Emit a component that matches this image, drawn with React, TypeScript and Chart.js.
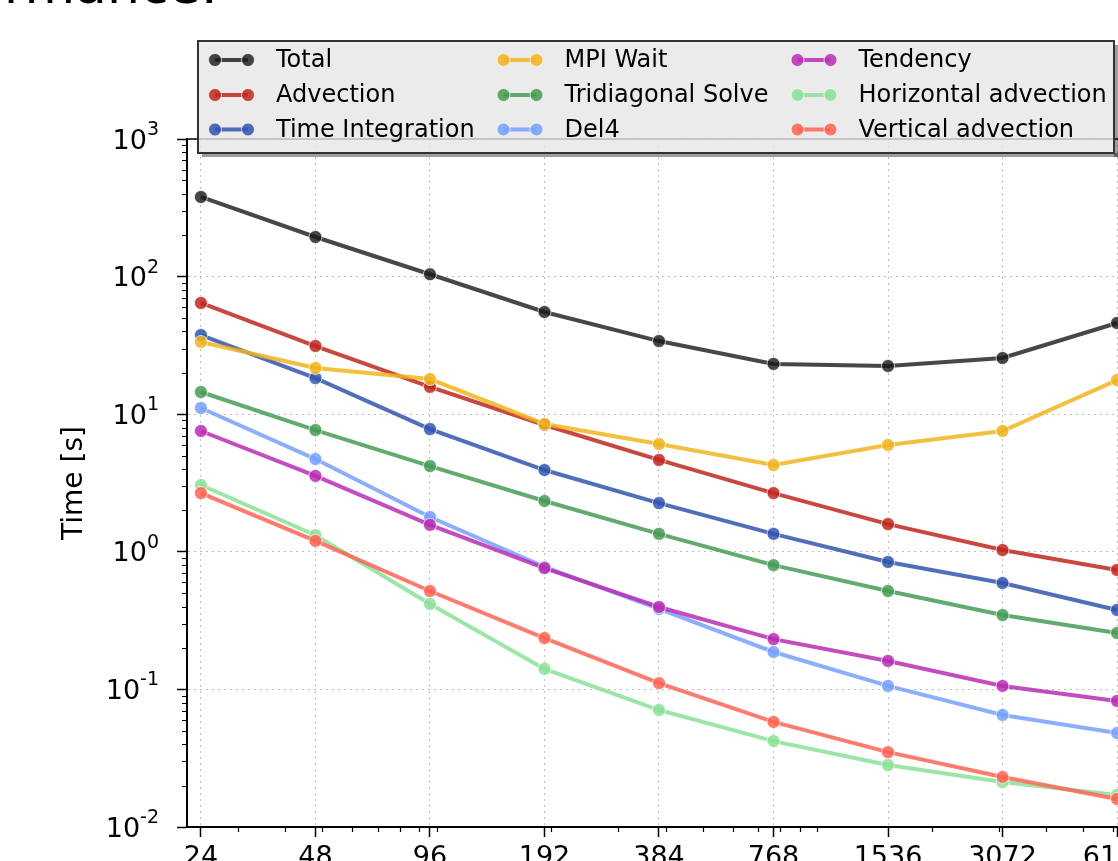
import React, { useEffect, useRef } from 'react';
import { Chart, registerables } from 'chart.js';

Chart.register(...registerables);

const cores = [24, 48, 96, 192, 384, 768, 1536, 3072, 6144];
const xTickLabels = ['24', '48', '96', '192', '384', '768', '1536', '3072', '6144'];
const yTickValues = [0.01, 0.1, 1, 10, 100, 1000];
const yTickBase = '10';
const yTickExponents = ['-2', '-1', '0', '1', '2', '3'];

const seriesNames = [
  'Total',
  'Advection',
  'Time Integration',
  'MPI Wait',
  'Tridiagonal Solve',
  'Del4',
  'Tendency',
  'Horizontal advection',
  'Vertical advection',
];
const seriesColors = [
  'rgba(25,25,25,0.8)',
  'rgba(190,40,30,0.85)',
  'rgba(50,85,175,0.85)',
  'rgba(240,180,30,0.85)',
  'rgba(70,155,85,0.85)',
  'rgba(120,160,255,0.85)',
  'rgba(185,45,180,0.85)',
  'rgba(140,225,150,0.85)',
  'rgba(255,100,85,0.85)',
];

const total = [379, 194, 104, 55.3, 34.0, 23.2, 22.4, 25.6, 46.0];
const advection = [64.3, 31.3, 15.8, 8.35, 4.65, 2.67, 1.59, 1.03, 0.738];
const timeIntegration = [37.6, 18.3, 7.8, 3.93, 2.26, 1.35, 0.843, 0.593, 0.378];
const mpiWait = [33.5, 21.7, 18.0, 8.49, 6.07, 4.27, 5.97, 7.55, 17.7];
const tridiagonalSolve = [14.5, 7.67, 4.2, 2.34, 1.35, 0.8, 0.519, 0.347, 0.257];
const del4 = [11.1, 4.72, 1.79, 0.776, 0.384, 0.187, 0.106, 0.0652, 0.0482];
const tendency = [7.55, 3.56, 1.57, 0.762, 0.397, 0.232, 0.161, 0.106, 0.0824];
const horizontalAdvection = [3.06, 1.32, 0.418, 0.141, 0.0708, 0.0421, 0.0282, 0.0212, 0.0171];
const verticalAdvection = [2.67, 1.2, 0.519, 0.236, 0.111, 0.058, 0.035, 0.0231, 0.016];

const seriesValues = [
  total,
  advection,
  timeIntegration,
  mpiWait,
  tridiagonalSolve,
  del4,
  tendency,
  horizontalAdvection,
  verticalAdvection,
];

const titleText = 'Performance:';

const FONT = '"DejaVu Sans", "Liberation Sans", sans-serif';

const decorPlugin = {
  id: 'decor',
  afterDraw(chart: any) {
    const { ctx, chartArea: ca, scales } = chart;
    const xs = scales.x;
    const ys = scales.y;
    ctx.save();

    // title (mostly outside the visible area)
    ctx.fillStyle = '#000';
    ctx.font = `52px ${FONT}`;
    ctx.textAlign = 'right';
    ctx.textBaseline = 'alphabetic';
    ctx.fillText(titleText, 218, 3);

    // y tick labels with superscript exponents
    yTickValues.forEach((v, i) => {
      const py = ys.getPixelForValue(v);
      const exp = yTickExponents[i];
      ctx.fillStyle = '#000';
      ctx.textAlign = 'right';
      ctx.textBaseline = 'alphabetic';
      ctx.font = `19px ${FONT}`;
      const ew = ctx.measureText(exp).width;
      ctx.fillText(exp, 159, py - 4);
      ctx.font = `27px ${FONT}`;
      ctx.fillText(yTickBase, 159 - ew, py + 9.5);
    });

    // top spine
    ctx.strokeStyle = '#000';
    ctx.lineWidth = 1.5;
    ctx.beginPath();
    ctx.moveTo(ca.left, ca.top);
    ctx.lineTo(ca.right, ca.top);
    ctx.stroke();

    // minor ticks
    ctx.lineWidth = 1.2;
    ctx.beginPath();
    for (let e = 1; e <= 3; e++) {
      for (let m = 1; m <= 9; m++) {
        const v = m * Math.pow(10, e);
        if (v < xs.min || v > xs.max) continue;
        const px = Math.round(xs.getPixelForValue(v)) + 0.5;
        ctx.moveTo(px, ca.bottom);
        ctx.lineTo(px, ca.bottom + 5);
      }
    }
    for (let e = -2; e <= 2; e++) {
      for (let m = 2; m <= 9; m++) {
        const v = m * Math.pow(10, e);
        if (v < ys.min || v > ys.max) continue;
        const py = Math.round(ys.getPixelForValue(v)) + 0.5;
        ctx.moveTo(ca.left, py);
        ctx.lineTo(ca.left - 5, py);
      }
    }
    ctx.stroke();

    // legend
    const bx = 198, by = 41, bw = 916, bh = 112;
    ctx.fillStyle = 'rgba(0,0,0,0.38)';
    ctx.fillRect(bx + bw, by + 4, 4, bh);
    ctx.fillRect(bx + 4, by + bh, bw, 4);
    ctx.fillStyle = 'rgba(230,230,230,0.8)';
    ctx.fillRect(bx, by, bw, bh);
    ctx.strokeStyle = '#333';
    ctx.lineWidth = 2;
    ctx.strokeRect(bx, by, bw, bh);

    const rows = [60, 95, 129.5];
    const cols = [215, 503.5, 797.5];
    ctx.font = `24px ${FONT}`;
    ctx.textAlign = 'left';
    ctx.textBaseline = 'middle';
    seriesNames.forEach((name, i) => {
      const cx = cols[Math.floor(i / 3)];
      const cy = rows[i % 3];
      const color = seriesColors[i];
      ctx.strokeStyle = color;
      ctx.lineWidth = 4;
      ctx.beginPath();
      ctx.moveTo(cx, cy);
      ctx.lineTo(cx + 33, cy);
      ctx.stroke();
      [cx, cx + 33].forEach((px) => {
        ctx.beginPath();
        ctx.arc(px, cy, 6.5, 0, Math.PI * 2);
        ctx.fillStyle = color;
        ctx.fill();
        ctx.strokeStyle = 'rgba(255,255,255,0.7)';
        ctx.lineWidth = 1;
        ctx.stroke();
      });
      ctx.fillStyle = '#000';
      ctx.fillText(name, cx + 61, cy + 1);
    });

    ctx.restore();
  },
};

export default function App() {
  const ref = useRef<HTMLCanvasElement>(null);

  useEffect(() => {
    Chart.defaults.font.family = FONT;
    const datasets = seriesNames.map((name, i) => ({
      label: name,
      data: cores.map((x, j) => ({ x, y: seriesValues[i][j] })),
      borderColor: seriesColors[i],
      backgroundColor: seriesColors[i],
      borderWidth: 4,
      pointRadius: 6.5,
      pointBackgroundColor: seriesColors[i],
      pointBorderColor: 'rgba(255,255,255,0.7)',
      pointBorderWidth: 1,
      tension: 0,
      order: -i,
    }));

    const gridCommon = {
      color: '#bdbdbd',
      lineWidth: 1,
      tickLength: 10,
      tickColor: '#000',
      tickWidth: 1.5,
    };

    const chart = new Chart(ref.current as HTMLCanvasElement, {
      type: 'line',
      data: { datasets },
      options: {
        responsive: false,
        devicePixelRatio: 1,
        animation: false,
        layout: { padding: { left: 0, top: 139, right: 9, bottom: 0 } },
        plugins: {
          legend: { display: false },
          tooltip: { enabled: false },
          title: { display: false },
        },
        scales: {
          x: {
            type: 'logarithmic',
            min: 22.06,
            max: 6685,
            bounds: 'data',
            afterBuildTicks: (s: any) => {
              s.ticks = cores.map((v) => ({ value: v }));
            },
            afterFit: (s: any) => {
              s.height = 34;
              s.paddingLeft = 0;
              s.paddingRight = 0;
            },
            ticks: {
              autoSkip: false,
              maxRotation: 0,
              minRotation: 0,
              padding: 5,
              color: '#000',
              font: { size: 27 },
              callback: (_v: any, i: number) => xTickLabels[i],
            },
            grid: gridCommon,
            border: { color: '#000', width: 2, dash: [2, 4] },
          },
          y: {
            type: 'logarithmic',
            min: 0.01,
            max: 1000,
            bounds: 'data',
            afterBuildTicks: (s: any) => {
              s.ticks = yTickValues.map((v) => ({ value: v }));
            },
            afterFit: (s: any) => {
              s.width = 187;
              s.paddingTop = 0;
              s.paddingBottom = 0;
            },
            ticks: { display: false },
            title: {
              display: true,
              text: 'Time [s]',
              color: '#000',
              font: { size: 28 },
              padding: { top: 58, bottom: 0 },
            },
            grid: gridCommon,
            border: { color: '#000', width: 2, dash: [2, 4] },
          },
        },
      } as any,
      plugins: [decorPlugin],
    });
    return () => chart.destroy();
  }, []);

  return (
    <div
      style={{
        position: 'fixed',
        left: 0,
        top: 0,
        width: 1118,
        height: 861,
        overflow: 'hidden',
        background: '#fff',
      }}
    >
      <canvas
        ref={ref}
        width={1140}
        height={861}
        style={{ position: 'absolute', left: 0, top: 0, width: 1140, height: 861 }}
      />
    </div>
  );
}
